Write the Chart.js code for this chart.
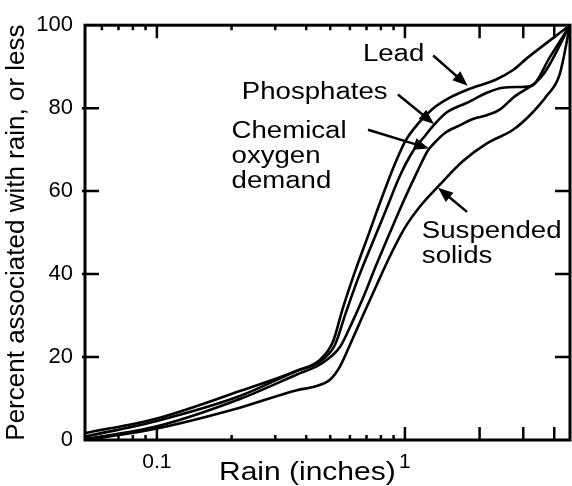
<!DOCTYPE html>
<html>
<head>
<meta charset="utf-8">
<script src="https://cdn.jsdelivr.net/npm/chart.js@4.4.0/dist/chart.umd.min.js"></script>
<style>
  html, body { margin: 0; padding: 0; background: #fff; }
  #chart { display: block; }
</style>
</head>
<body>
<canvas id="chart" width="572" height="486"></canvas>
<script>
// values (rain in inches, percent with that rain or less)
const leadRain = [0.0513, 0.1, 0.216, 0.367, 0.454, 0.512, 0.562, 0.629, 0.709, 0.8, 0.903, 1.0, 1.128, 1.285, 1.491, 1.83, 2.31, 2.73, 3.1, 4.63];
const leadPct  = [1.65, 5.2, 11.8, 16.7, 19.3, 23.6, 31.8, 40.6, 49.1, 57.8, 66, 71.9, 76.2, 79.7, 82.3, 84.7, 86.8, 89.2, 92, 100];

const phosRain = [0.0513, 0.1, 0.216, 0.367, 0.454, 0.522, 0.578, 0.647, 0.736, 0.838, 0.955, 1.077, 1.215, 1.32, 1.476, 1.795, 2.14, 2.48, 2.91, 3.25, 3.84, 4.63];
const phosPct  = [0.8, 4.6, 10.6, 16.7, 18.9, 22.9, 30.7, 38.9, 47.2, 55.4, 63.7, 69.6, 73.6, 76.2, 79, 81.4, 83.7, 84.9, 85.1, 85.4, 92.3, 100];

const codRain = [0.0513, 0.1, 0.216, 0.367, 0.454, 0.547, 0.612, 0.677, 0.764, 0.87, 0.991, 1.128, 1.238, 1.3, 1.45, 1.667, 1.88, 2.14, 2.42, 2.73, 3.6, 4.63];
const codPct  = [0.2, 3.3, 9.9, 15.8, 18.2, 22.4, 28.3, 34.2, 42, 50, 57.8, 65, 69.8, 71.3, 74, 75.9, 77.4, 78.3, 79.7, 82.5, 88, 100];

const ssRain = [0.0513, 0.1, 0.216, 0.367, 0.44, 0.5, 0.547, 0.6, 0.677, 0.771, 0.87, 1.0, 1.15, 1.38, 1.71, 2.14, 2.73, 3.19, 3.73, 4.2, 4.63];
const ssPct  = [0, 2.8, 7.8, 12, 13, 14.6, 17.7, 22.9, 30, 37.5, 44.3, 51.2, 56.3, 61.5, 67.2, 71.5, 74.8, 78.3, 83, 88, 100];

const rainMin = 0.0513;
const rainMax = 4.63;
const xTickLabels = [0.1, 1];
const xLongTicks = [0.1, 1, 2, 3, 4];
const xShortTicks = [0.06, 0.07, 0.08, 0.09, 0.2, 0.3, 0.4, 0.5, 0.6, 0.7, 0.8, 0.9];
const yTicks = [20, 40, 60, 80];

// callouts: text anchor (left, baseline) and arrow in data units
const callouts = [
    { lines: ['Lead'], at: [0.677, 91.3], from: [1.30, 92.7], to: [1.79, 85.4] },
    { lines: ['Phosphates'], at: [0.220, 82.1], from: [0.937, 83.3], to: [1.31, 76.2] },
    { lines: ['Chemical', 'oxygen', 'demand'], at: [0.2, 72.9], from: [0.71, 74.8], to: [1.25, 70.3] },
    { lines: ['Suspended', 'solids'], at: [1.17, 48.8], from: [1.78, 55], to: [1.36, 60.8] }
];

const fontFamily = "'Liberation Sans', Arial, Helvetica, sans-serif";

function toPoints(xs, ys) {
    return xs.map((x, i) => ({ x, y: ys[i] }));
}

function curve(label, xs, ys) {
    return {
        label,
        data: toPoints(xs, ys),
        borderColor: '#000',
        borderWidth: 2.6,
        pointRadius: 0,
        fill: false,
        cubicInterpolationMode: 'monotone'
    };
}

function stretchedText(ctx, text, x, y) {
    ctx.save();
    ctx.translate(x, y);
    ctx.scale(1.2, 1);
    ctx.fillText(text, 0, 0);
    ctx.restore();
}

function drawArrow(ctx, x1, y1, x2, y2) {
    const ang = Math.atan2(y2 - y1, x2 - x1);
    const len = 15, half = 6;
    ctx.beginPath();
    ctx.moveTo(x1, y1);
    ctx.lineTo(x2 - Math.cos(ang) * len * 0.8, y2 - Math.sin(ang) * len * 0.8);
    ctx.stroke();
    ctx.beginPath();
    ctx.moveTo(x2, y2);
    ctx.lineTo(x2 - Math.cos(ang) * len - Math.sin(ang) * half, y2 - Math.sin(ang) * len + Math.cos(ang) * half);
    ctx.lineTo(x2 - Math.cos(ang) * len + Math.sin(ang) * half, y2 - Math.sin(ang) * len - Math.cos(ang) * half);
    ctx.closePath();
    ctx.fill();
}

const framePlugin = {
    id: 'frameAndNotes',
    afterDraw(chart) {
        const { ctx, chartArea: a, scales: { x, y } } = chart;
        ctx.save();
        ctx.strokeStyle = '#000';
        ctx.fillStyle = '#000';

        // frame
        ctx.lineWidth = 3;
        ctx.strokeRect(a.left, a.top, a.right - a.left, a.bottom - a.top);

        // inward tick marks
        ctx.lineWidth = 2.5;
        ctx.beginPath();
        yTicks.forEach(v => {
            const py = y.getPixelForValue(v);
            ctx.moveTo(a.left - 3, py);
            ctx.lineTo(a.left + 14, py);
            ctx.moveTo(a.right, py);
            ctx.lineTo(a.right - 15, py);
        });
        xLongTicks.forEach(v => {
            const px = x.getPixelForValue(v);
            ctx.moveTo(px, a.bottom);
            ctx.lineTo(px, a.bottom - 13);
            ctx.moveTo(px, a.top);
            ctx.lineTo(px, a.top + 13);
        });
        xShortTicks.forEach(v => {
            const px = x.getPixelForValue(v);
            ctx.moveTo(px, a.bottom);
            ctx.lineTo(px, a.bottom - 5);
            ctx.moveTo(px, a.top);
            ctx.lineTo(px, a.top + 5);
        });
        ctx.stroke();

        // x axis title
        ctx.font = '25px ' + fontFamily;
        ctx.textBaseline = 'alphabetic';
        ctx.textAlign = 'left';
        stretchedText(ctx, 'Rain (inches)', a.left + 134, 480);

        // callouts
        ctx.font = '23px ' + fontFamily;
        callouts.forEach(c => {
            const tx = x.getPixelForValue(c.at[0]);
            const ty = y.getPixelForValue(c.at[1]);
            c.lines.forEach((line, i) => stretchedText(ctx, line, tx, ty + i * 25));
            ctx.lineWidth = 2.5;
            drawArrow(ctx,
                x.getPixelForValue(c.from[0]), y.getPixelForValue(c.from[1]),
                x.getPixelForValue(c.to[0]), y.getPixelForValue(c.to[1]));
        });
        ctx.restore();
    }
};

new Chart(document.getElementById('chart'), {
    type: 'line',
    data: {
        datasets: [
            curve('Lead', leadRain, leadPct),
            curve('Phosphates', phosRain, phosPct),
            curve('Chemical oxygen demand', codRain, codPct),
            curve('Suspended solids', ssRain, ssPct)
        ]
    },
    options: {
        responsive: false,
        animation: false,
        layout: { padding: { top: 16, right: 2, left: 0, bottom: 0 } },
        plugins: {
            legend: { display: false },
            tooltip: { enabled: false }
        },
        scales: {
            x: {
                type: 'logarithmic',
                min: rainMin,
                max: rainMax,
                grid: { display: false, drawTicks: false },
                border: { display: false },
                afterBuildTicks: scale => {
                    scale.ticks = xTickLabels.map(v => ({ value: v }));
                },
                afterFit: scale => { scale.height = 46; },
                ticks: {
                    autoSkip: false,
                    maxRotation: 0,
                    padding: 10,
                    color: '#000',
                    font: { family: fontFamily, size: 21 },
                    callback: v => String(v)
                }
            },
            y: {
                min: 0,
                max: 100,
                grid: { display: false, drawTicks: false },
                border: { display: false },
                afterFit: scale => { scale.width = 85; },
                ticks: {
                    stepSize: 20,
                    padding: 12,
                    color: '#000',
                    font: { family: fontFamily, size: 22 }
                },
                title: {
                    display: true,
                    text: 'Percent associated with rain, or less',
                    color: '#000',
                    font: { family: fontFamily, size: 26 },
                    padding: { top: 1, bottom: 0 }
                }
            }
        }
    },
    plugins: [framePlugin]
});
</script>
</body>
</html>
